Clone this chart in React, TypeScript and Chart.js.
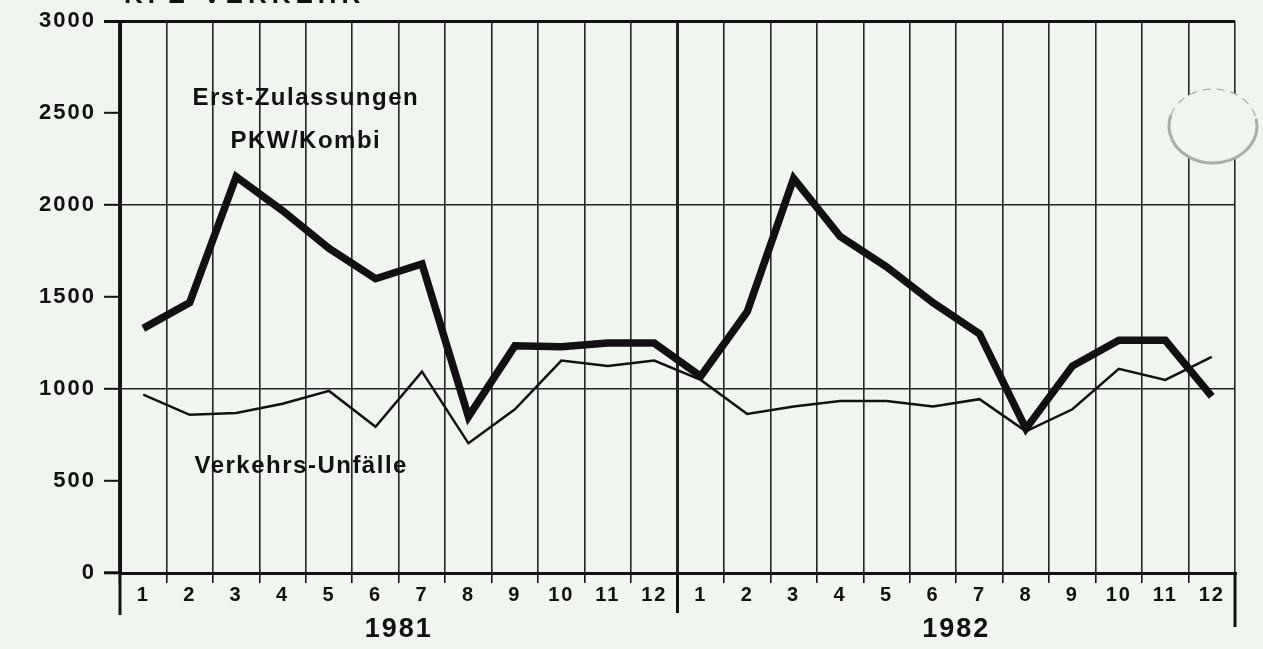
import React, { useEffect, useRef } from 'react';
import { Chart, registerables } from 'chart.js';

Chart.register(...registerables);

const monthLabels = ['1', '2', '3', '4', '5', '6', '7', '8', '9', '10', '11', '12', '1', '2', '3', '4', '5', '6', '7', '8', '9', '10', '11', '12'];
const yearLabels = ['1981', '1982'];
const yTickValues = [0, 500, 1000, 1500, 2000, 2500, 3000];

const zulassungen1981 = [1330, 1470, 2155, 1970, 1765, 1600, 1680, 850, 1235, 1230, 1250, 1250];
const zulassungen1982 = [1070, 1420, 2145, 1830, 1665, 1470, 1300, 785, 1125, 1265, 1265, 960];
const unfaelle1981 = [970, 860, 870, 920, 990, 795, 1095, 705, 890, 1155, 1125, 1155];
const unfaelle1982 = [1050, 865, 905, 935, 935, 905, 945, 770, 890, 1110, 1050, 1175];

const seriesZulassungen = [...zulassungen1981, ...zulassungen1982];
const seriesUnfaelle = [...unfaelle1981, ...unfaelle1982];

const annotationTexts = ['Erst-Zulassungen', 'PKW/Kombi', 'Verkehrs-Unfälle'];
const annotationX = [3.5, 3.5, 3.4];
const annotationY = [2580, 2345, 580];
const titleText = 'KFZ-VERKEHR';

const BG = '#f1f5f0';
const INK = '#111111';
const GRID = '#232523';
const FONT = "'Liberation Sans', Arial, sans-serif";

const decorPlugin = {
  id: 'decor',
  beforeDraw(chart: any) {
    const ctx = chart.ctx;
    ctx.save();
    ctx.fillStyle = BG;
    ctx.fillRect(0, 0, chart.width, chart.height);
    ctx.restore();
    ctx.letterSpacing = '2px';
  },
  afterDraw(chart: any) {
    const { ctx, chartArea, scales } = chart;
    const x = scales.x;
    const y = scales.y;
    ctx.save();
    // year divider extensions below the axis
    ctx.strokeStyle = INK;
    ctx.lineWidth = 3;
    const mid = (x.getPixelForValue(11) + x.getPixelForValue(12)) / 2;
    const dividers: [number, number][] = [
      [chartArea.left, 615],
      [mid, 613],
      [chartArea.right, 627],
    ];
    dividers.forEach(([px, yb]) => {
      ctx.beginPath();
      ctx.moveTo(px, chartArea.bottom);
      ctx.lineTo(px, yb);
      ctx.stroke();
    });

    // in-chart annotation labels
    ctx.fillStyle = INK;
    ctx.font = `bold 24px ${FONT}`;
    ctx.letterSpacing = '1.5px';
    ctx.textAlign = 'center';
    ctx.textBaseline = 'middle';
    annotationTexts.forEach((t, i) => {
      ctx.fillText(t, x.getPixelForValue(annotationX[i]), y.getPixelForValue(annotationY[i]));
    });

    // cut-off title at the very top
    ctx.font = `bold 26px ${FONT}`;
    ctx.letterSpacing = '5px';
    ctx.textAlign = 'left';
    ctx.textBaseline = 'alphabetic';
    ctx.fillText(titleText, 124, 3);

    // scan artifact (round sticker) on the right
    ctx.beginPath();
    ctx.ellipse(1213, 126, 44, 37, 0, 0, Math.PI * 2);
    ctx.fillStyle = BG;
    ctx.fill();
    ctx.strokeStyle = '#a9aca9';
    ctx.lineWidth = 3;
    ctx.beginPath();
    ctx.ellipse(1213, 126, 44, 37, 0, -0.2, Math.PI + 0.3);
    ctx.stroke();
    ctx.setLineDash([8, 6]);
    ctx.lineWidth = 1.2;
    ctx.beginPath();
    ctx.ellipse(1213, 126, 44, 37, 0, Math.PI + 0.3, Math.PI * 2 - 0.2);
    ctx.stroke();
    ctx.restore();
  },
};

export default function App() {
  const canvasRef = useRef<HTMLCanvasElement | null>(null);

  useEffect(() => {
    document.body.style.margin = '0';
    const canvas = canvasRef.current;
    if (!canvas) return;
    const chart = new Chart(canvas, {
      type: 'line',
      data: {
        labels: monthLabels,
        datasets: [
          {
            label: 'Erst-Zulassungen PKW/Kombi',
            data: seriesZulassungen,
            borderColor: INK,
            borderWidth: 7.5,
            pointRadius: 0,
            tension: 0,
            borderJoinStyle: 'miter',
            borderCapStyle: 'butt',
            fill: false,
          },
          {
            label: 'Verkehrs-Unfälle',
            data: seriesUnfaelle,
            borderColor: INK,
            borderWidth: 2.5,
            pointRadius: 0,
            tension: 0,
            fill: false,
          },
        ],
      },
      options: {
        animation: false,
        responsive: true,
        maintainAspectRatio: false,
        layout: { padding: { top: 19, right: 28, bottom: 0, left: 0 } },
        plugins: {
          legend: { display: false },
          tooltip: { enabled: false },
          title: { display: false },
        },
        scales: {
          x: {
            type: 'category',
            position: 'bottom',
            weight: 0,
            offset: true,
            grid: {
              offset: true,
              color: GRID,
              lineWidth: (c: any) => (c.index % 12 === 0 ? 3 : 1.6),
              tickColor: INK,
              tickWidth: 1.6,
              tickLength: 10,
            },
            border: { display: true, color: INK, width: 3 },
            ticks: {
              color: INK,
              font: { family: FONT, size: 20, weight: 'bold' },
              padding: 0,
              autoSkip: false,
              maxRotation: 0,
              minRotation: 0,
            },
            afterFit: (s: any) => {
              s.height = 35;
            },
          },
          x2: {
            type: 'category',
            position: 'bottom',
            weight: 1,
            labels: yearLabels,
            offset: true,
            grid: { display: false, drawTicks: false },
            border: { display: false },
            ticks: {
              color: INK,
              font: { family: FONT, size: 27, weight: 'bold' },
              padding: 5,
              maxRotation: 0,
              autoSkip: false,
            },
            afterFit: (s: any) => {
              s.height = 41;
            },
          },
          y: {
            type: 'linear',
            min: 0,
            max: 3000,
            afterBuildTicks: (s: any) => {
              s.ticks = yTickValues.map((v) => ({ value: v }));
            },
            grid: {
              color: (c: any) => {
                const v = c.tick ? c.tick.value : 0;
                if (v === 3000) return INK;
                if (v === 1000 || v === 2000) return GRID;
                return 'rgba(0,0,0,0)';
              },
              lineWidth: (c: any) => (c.tick && c.tick.value === 3000 ? 3 : 1.6),
              tickColor: INK,
              tickWidth: (c: any) => (c.tick && (c.tick.value === 3000 || c.tick.value === 0) ? 3 : 2),
              tickLength: 16,
            },
            border: { display: true, color: INK, width: 3 },
            ticks: {
              color: INK,
              font: { family: FONT, size: 22, weight: 'bold' },
              padding: 8,
              callback: (v: any) => String(v),
            },
            afterFit: (s: any) => {
              s.width = 120;
            },
          },
        },
      },
      plugins: [decorPlugin],
    });
    return () => chart.destroy();
  }, []);

  return (
    <div style={{ position: 'fixed', left: 0, top: 0, width: 1263, height: 649, background: BG }}>
      <canvas ref={canvasRef} />
    </div>
  );
}
